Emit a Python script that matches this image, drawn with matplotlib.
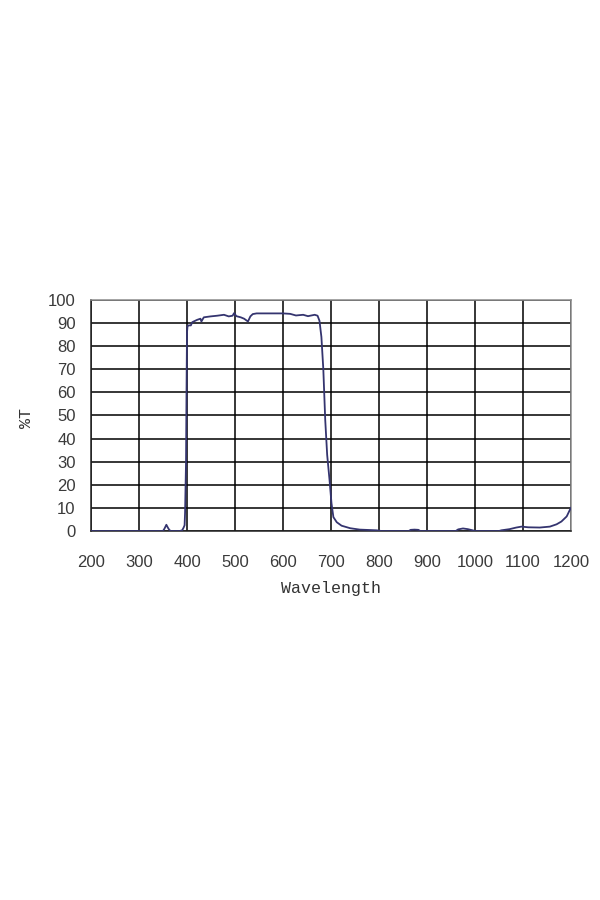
import matplotlib
matplotlib.use('Agg')
import matplotlib.pyplot as plt

# transmission curve
wavelength = [200, 350, 353, 357, 360, 363, 366, 385, 390, 393, 395, 396,
              398, 399, 400, 401, 403, 408, 411, 421, 428, 430, 435, 449,
              463, 477, 487, 495, 498, 503, 512, 519, 527, 532, 537, 545,
              600, 615, 627, 642, 652, 666, 672, 676, 680, 684, 688, 692,
              697, 701, 705, 712, 722, 740, 760, 795, 805, 862, 866, 874,
              882, 886, 960, 965, 975, 985, 995, 1000, 1050, 1055, 1072, 1086,
              1097, 1111, 1135, 1156, 1170, 1180, 1191, 1198, 1200]
transmission = [0, 0, 1, 2.7, 1.5, 0.5, 0, 0, 0.3, 1.5, 2.5, 8,
                30, 60, 86, 88.5, 89, 89, 90.4, 91.4, 91.9, 90.7, 92.5, 92.9,
                93.2, 93.6, 92.9, 93.2, 94.3, 93, 92.5, 91.9, 90.7, 92.9, 93.9, 94.2,
                94.2, 94, 93.3, 93.6, 93, 93.6, 93.2, 91, 84, 70, 48, 33,
                22, 12, 6, 3.8, 2.3, 1.2, 0.6, 0.3, 0, 0, 0.5, 0.6,
                0.5, 0, 0, 0.7, 1.1, 0.8, 0.3, 0, 0, 0.3, 0.8, 1.5,
                1.9, 1.6, 1.5, 1.9, 2.9, 4.1, 6.3, 9.3, 10]

x_ticks = list(range(200, 1201, 100))
y_ticks = list(range(0, 101, 10))

fig = plt.figure(figsize=(6, 9), dpi=100)
ax = fig.add_axes([91 / 600, 1 - 531 / 900, 480 / 600, 231 / 900])

ax.plot(wavelength, transmission, color='#34346f', linewidth=1.3, zorder=3)

ax.set_xlim(200, 1200)
ax.set_ylim(0, 100)
ax.set_xticks(x_ticks)
ax.set_yticks(y_ticks)
ax.grid(True, color='black', linewidth=1.1)
ax.tick_params(length=0, labelsize=12)
ax.tick_params(axis='x', pad=17)
ax.tick_params(axis='y', pad=11)
for lab in ax.get_xticklabels() + ax.get_yticklabels():
    lab.set_fontfamily('Liberation Sans')
    lab.set_color('#3a3a3a')

ax.spines['left'].set_color('#222222')
ax.spines['bottom'].set_color('#222222')
ax.spines['top'].set_color('#8c8c8c')
ax.spines['right'].set_color('#8c8c8c')
for s in ax.spines.values():
    s.set_linewidth(1.1)

ax.set_xlabel('Wavelength', fontfamily='Liberation Mono', fontsize=12, color='#333333')
ax.xaxis.set_label_coords(0.5, -0.215)
ax.set_ylabel('%T', fontfamily='Liberation Mono', fontsize=12, color='#333333')
ax.yaxis.set_label_coords(-0.118, 0.49)

fig.savefig('out.png', dpi=100, facecolor='white')
